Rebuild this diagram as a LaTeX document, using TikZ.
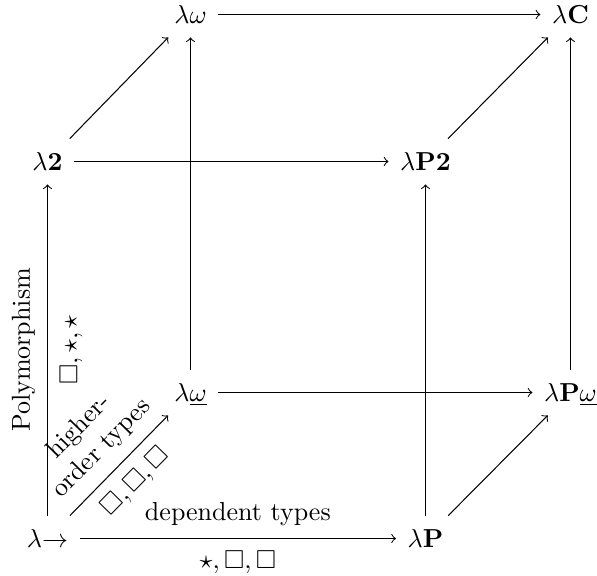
\documentclass[tikz,border=0pt]{standalone}
\usepackage{amssymb}
\begin{document}
\begin{tikzpicture}[x=0.3846pt,y=-0.3846pt,
  obj/.style={anchor=base, inner xsep=1ex, inner ysep=3.5pt, text height=8.5pt, text depth=1.7pt},
  arr/.style={->},
  lab/.style={inner sep=4.5pt, sloped}]
\useasboundingbox (0,0) rectangle (597,576);
% objects
\node[obj] (lw)  at (190.5,23.34)  {$\lambda\omega$};
\node[obj] (lC)  at (570.5,23.34)  {$\lambda\mathbf{C}$};
\node[obj] (l2)  at (47.5,170.34)  {$\lambda\mathbf{2}$};
\node[obj] (lP2) at (425.5,170.34) {$\lambda\mathbf{P2}$};
\node[obj] (lwu) at (190.5,401.34) {$\lambda\underline{\omega}$};
\node[obj] (lPw) at (570.5,401.34) {$\lambda\mathbf{P}\underline{\omega}$};
\node[obj] (lto) at (47.5,547.34)  {$\lambda{\to}$};
\node[obj] (lP)  at (425.5,547.34) {$\lambda\mathbf{P}$};
% top face
\draw[arr] (lw) -- (lC);
\draw[arr] (l2) -- (lw);
\draw[arr] (l2) -- (lP2);
\draw[arr] (lP2) -- (lC);
% verticals
\draw[arr] (lwu) -- (lw);
\draw[arr] (lPw) -- (lC);
\draw[arr] (lP) -- (lP2);
\draw[arr] (lto) -- (l2)
  node[lab, midway, above] (lpoly) {Polymorphism}
  node[lab, midway, below] (lpolyr) {$\Box, \star, \star$};
% bottom face
\draw[arr] (lwu) -- (lPw);
\draw[arr] (lP) -- (lPw);
\draw[arr] (lto) -- (lwu)
  node[lab, midway, above, align=center] (lhot) {higher-\\order types}
  node[lab, midway, below] (lhotr) {$\Box, \Box, \Box$};
\draw[arr] (lto) -- (lP)
  node[lab, midway, above] (ldep) {dependent types}
  node[lab, midway, below] (ldepr) {$\star, \Box, \Box$};
\end{tikzpicture}
\end{document}
